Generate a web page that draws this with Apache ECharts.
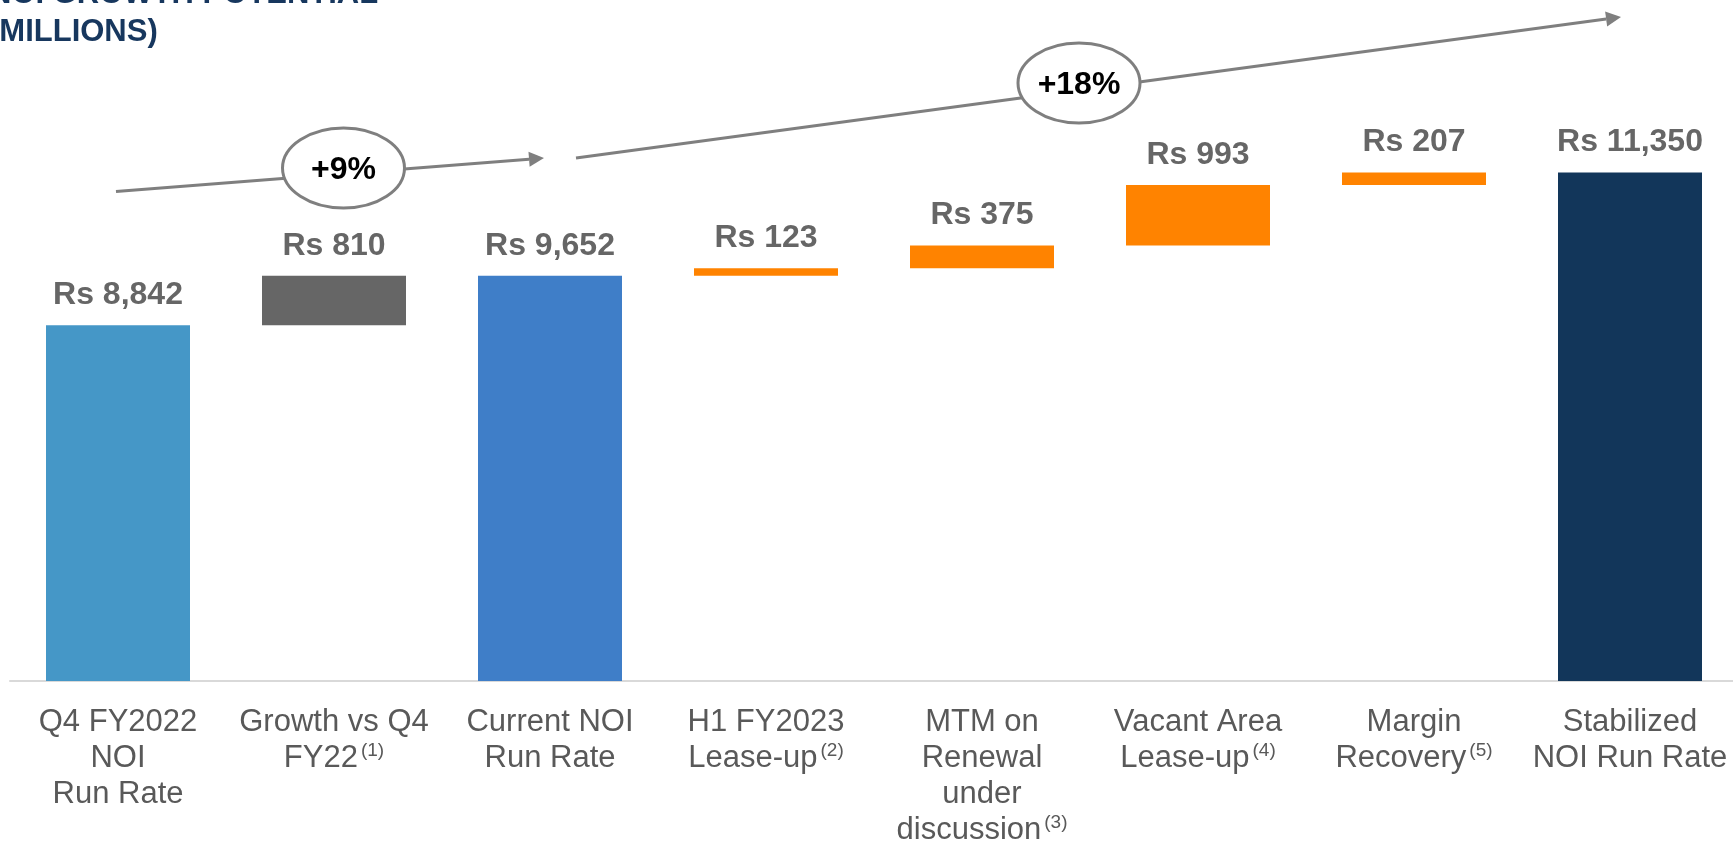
<!DOCTYPE html>
<html>
<head>
<meta charset="utf-8">
<script src="https://cdn.jsdelivr.net/npm/echarts@6/dist/echarts.min.js"></script>
<style>
  html, body { margin: 0; padding: 0; background: #fff; }
  #main { width: 1733px; height: 841px; }
</style>
</head>
<body>
<div id="main"></div>
<script>
// categories, footnote marks and values (Rs millions)
var categories = ['Q4 FY2022\nNOI\nRun Rate', 'Growth vs Q4\nFY22', 'Current NOI\nRun Rate', 'H1 FY2023\nLease-up',
                  'MTM on\nRenewal\nunder\ndiscussion', 'Vacant Area\nLease-up', 'Margin\nRecovery', 'Stabilized\nNOI Run Rate'];
var footnotes = ['', '1', '', '2', '3', '4', '5', ''];
var values = [8842, 810, 9652, 123, 375, 993, 207, 11350];
var isTotal = [true, false, true, false, false, false, false, true];
var barColors = ['#4597C7', '#666666', '#3F7EC8', '#FF8300', '#FF8300', '#FF8300', '#FF8300', '#12365A'];

// invisible base under each step bar = running total before it
var running = 0;
var baseValues = values.map(function (v, i) {
  if (isTotal[i]) { running = v; return 0; }
  var b = running; running += v; return b;
});

var FONT = '"Liberation Sans", Arial, sans-serif';
var GREY = '#7F7F7F';

// arrow = line + triangular head
function arrow(x1, y1, x2, y2) {
  var dx = x2 - x1, dy = y2 - y1, len = Math.sqrt(dx * dx + dy * dy);
  var ux = dx / len, uy = dy / len, hl = 15, hw = 7.5;
  var bx = x2 - ux * hl, by = y2 - uy * hl;
  return [
    { type: 'line', z: 10, shape: { x1: x1, y1: y1, x2: bx, y2: by }, style: { stroke: GREY, lineWidth: 3 } },
    { type: 'polygon', z: 10, shape: { points: [[x2, y2], [bx - uy * hw, by + ux * hw], [bx + uy * hw, by - ux * hw]] }, style: { fill: GREY } }
  ];
}
function bubble(cx, cy, txt) {
  return [
    { type: 'ellipse', z: 11, shape: { cx: cx, cy: cy, rx: 61, ry: 40 }, style: { fill: '#fff', stroke: GREY, lineWidth: 3 } },
    { type: 'text', z: 12, x: cx, y: cy + 2, style: { text: txt, fill: '#000', font: 'bold 32px ' + FONT, align: 'center', verticalAlign: 'middle' } }
  ];
}

var myChart = echarts.init(document.getElementById('main'));

var option = {
  backgroundColor: '#fff',
  animation: false,
  grid: { left: 10, right: -5, top: 11, bottom: 160, outerBoundsMode: 'none' },
  xAxis: {
    type: 'category',
    data: categories,
    axisLine: { lineStyle: { color: '#D9D9D9', width: 2 } },
    axisTick: { show: false },
    axisLabel: {
      interval: 0,
      margin: 23,
      color: '#595959',
      fontFamily: FONT,
      fontSize: 31,
      lineHeight: 36,
      formatter: function (val, idx) {
        return footnotes[idx] ? val + '{sup|(' + footnotes[idx] + ')}' : val;
      },
      rich: {
        sup: { fontSize: 19, lineHeight: 20, verticalAlign: 'top', padding: [1, 0, 0, 3], color: '#595959', fontFamily: FONT }
      }
    }
  },
  yAxis: { type: 'value', min: 3000, max: 14000, show: false, splitLine: { show: false } },
  series: [
    {
      type: 'bar', stack: 'w', barWidth: 144, clip: true, silent: true,
      itemStyle: { color: 'transparent' },
      data: baseValues
    },
    {
      type: 'bar', stack: 'w', barWidth: 144, clip: true,
      data: values.map(function (v, i) { return { value: v, itemStyle: { color: barColors[i] } }; }),
      label: {
        show: true, position: 'top', distance: 14,
        color: '#666666', fontFamily: FONT, fontWeight: 'bold', fontSize: 32,
        formatter: function (p) { return 'Rs ' + p.value.toLocaleString('en-US'); }
      }
    }
  ],
  graphic: [].concat(
    [
      { type: 'text', x: -11, y: -6, style: { text: 'NOI GROWTH POTENTIAL', fill: '#17375E', font: 'bold 31px ' + FONT, verticalAlign: 'middle' } },
      { type: 'text', x: -11, y: 32, style: { text: '(MILLIONS)', fill: '#17375E', font: 'bold 31px ' + FONT, verticalAlign: 'middle' } }
    ],
    arrow(116, 191.5, 544, 158),
    arrow(576, 158, 1621, 17),
    bubble(343.5, 168, '+9%'),
    bubble(1079, 83, '+18%')
  )
};

myChart.setOption(option);
</script>
</body>
</html>
